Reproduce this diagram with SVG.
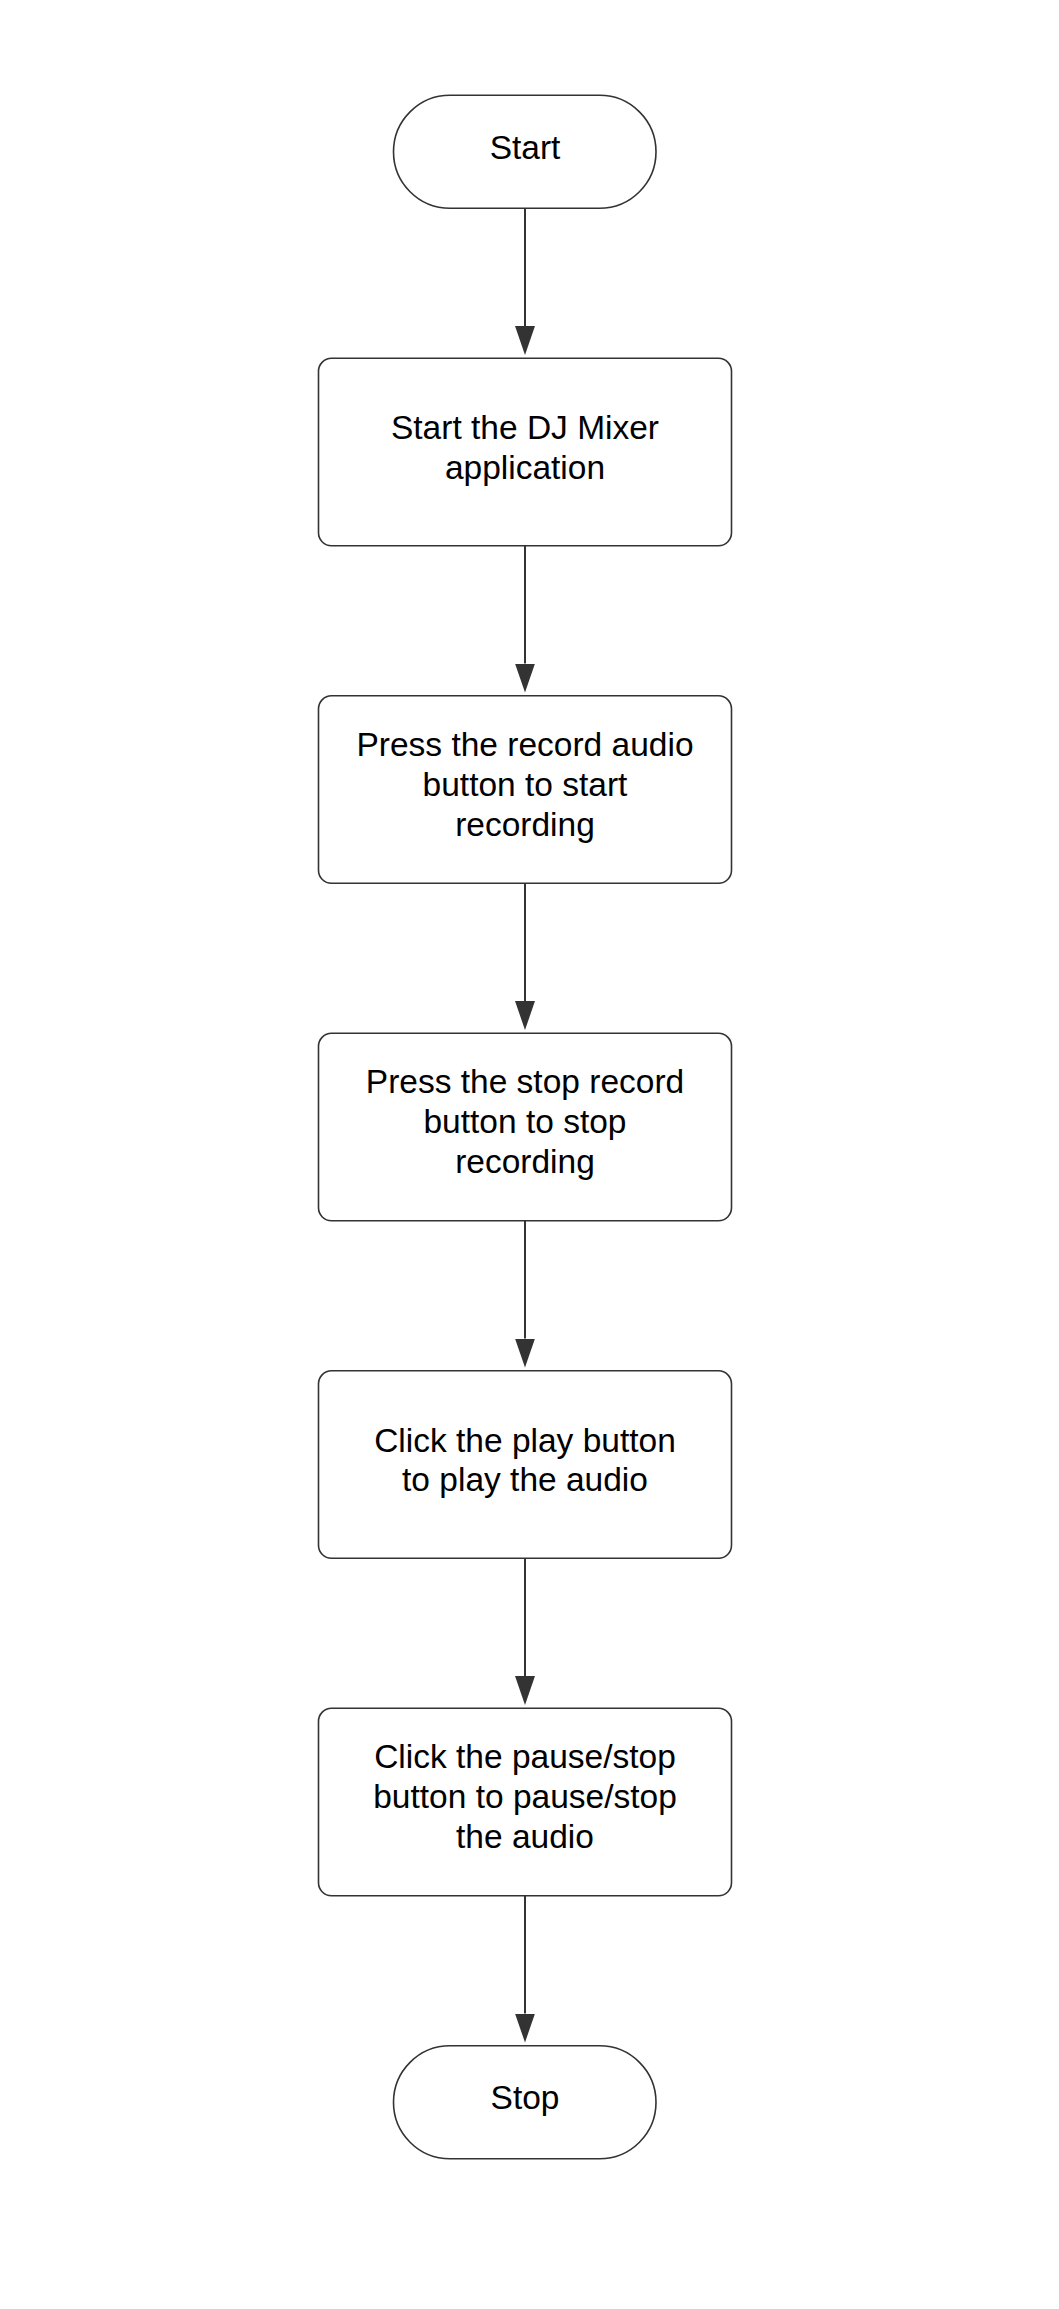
<svg xmlns="http://www.w3.org/2000/svg" width="1059" height="2309" viewBox="0 0 1059 2309">
<style>
.shape{fill:#ffffff;stroke:#333333;stroke-width:1.6}
.conn{stroke:#333333;stroke-width:2;fill:none}
.lbl{font-family:"Liberation Sans",Arial,sans-serif;font-size:33.5px;fill:#000000;text-anchor:middle}
</style>
<defs>
<marker id="ah" viewBox="0 0 29 20" refX="0" refY="10" markerWidth="29" markerHeight="20" markerUnits="userSpaceOnUse" orient="auto">
<path d="M0,0 L29,10 L0,20 Z" fill="#333333"/>
</marker>
</defs>
<rect width="1059" height="2309" fill="#ffffff"/>
<g id="connectors">
<line class="conn" x1="525" y1="208.3" x2="525" y2="326" marker-end="url(#ah)"/>
<line class="conn" x1="525" y1="545.8" x2="525" y2="663.5" marker-end="url(#ah)"/>
<line class="conn" x1="525" y1="883.3" x2="525" y2="1001" marker-end="url(#ah)"/>
<line class="conn" x1="525" y1="1220.8" x2="525" y2="1338.5" marker-end="url(#ah)"/>
<line class="conn" x1="525" y1="1558.3" x2="525" y2="1676" marker-end="url(#ah)"/>
<line class="conn" x1="525" y1="1895.8" x2="525" y2="2013.5" marker-end="url(#ah)"/>
</g>
<g id="start">
<rect class="shape" x="393.5" y="95.3" width="262.5" height="113" rx="56.5" ry="56.5"/>
<text class="lbl" x="525" y="159">Start</text>
</g>
<g id="step1">
<rect class="shape" x="318.5" y="358.3" width="413" height="187.5" rx="13" ry="13"/>
<text class="lbl" x="525" y="439">Start the DJ Mixer</text>
<text class="lbl" x="525" y="478.5">application</text>
</g>
<g id="step2">
<rect class="shape" x="318.5" y="695.8" width="413" height="187.5" rx="13" ry="13"/>
<text class="lbl" x="525" y="755.8">Press the record audio</text>
<text class="lbl" x="525" y="795.8">button to start</text>
<text class="lbl" x="525" y="835.8">recording</text>
</g>
<g id="step3">
<rect class="shape" x="318.5" y="1033.3" width="413" height="187.5" rx="13" ry="13"/>
<text class="lbl" x="525" y="1093.3">Press the stop record</text>
<text class="lbl" x="525" y="1133.3">button to stop</text>
<text class="lbl" x="525" y="1173.3">recording</text>
</g>
<g id="step4">
<rect class="shape" x="318.5" y="1370.8" width="413" height="187.5" rx="13" ry="13"/>
<text class="lbl" x="525" y="1451.5">Click the play button</text>
<text class="lbl" x="525" y="1491">to play the audio</text>
</g>
<g id="step5">
<rect class="shape" x="318.5" y="1708.3" width="413" height="187.5" rx="13" ry="13"/>
<text class="lbl" x="525" y="1768.3">Click the pause/stop</text>
<text class="lbl" x="525" y="1808.3">button to pause/stop</text>
<text class="lbl" x="525" y="1848.3">the audio</text>
</g>
<g id="stop">
<rect class="shape" x="393.5" y="2045.8" width="262.5" height="113" rx="56.5" ry="56.5"/>
<text class="lbl" x="525" y="2109">Stop</text>
</g>
</svg>
